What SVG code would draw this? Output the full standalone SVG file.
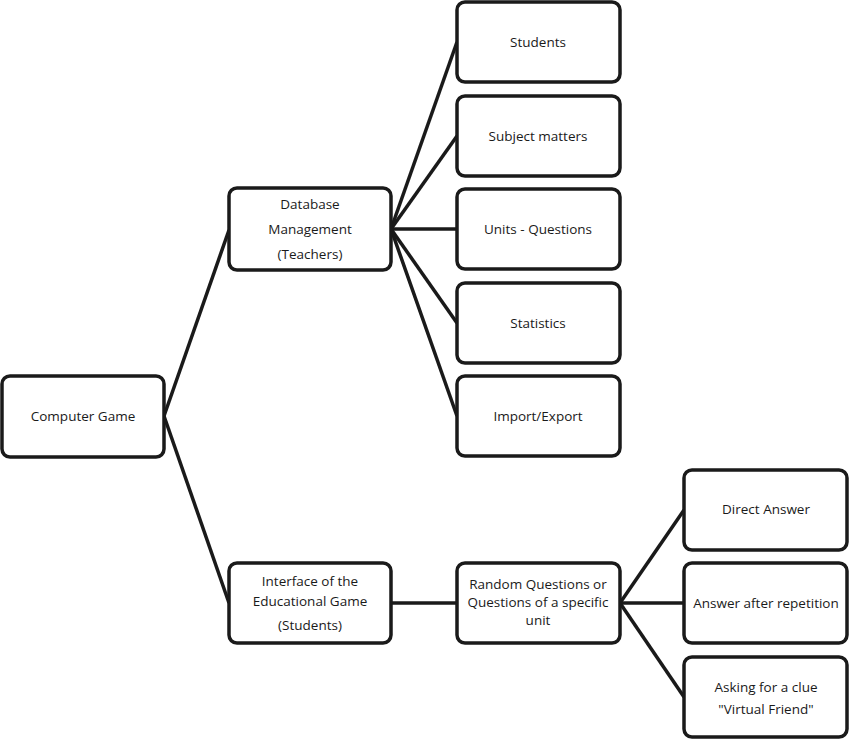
<svg xmlns="http://www.w3.org/2000/svg" width="850" height="740" viewBox="0 0 850 740">
<style>
rect{fill:#fff;stroke:#1a1a1a;stroke-width:3.5}
line{stroke:#1a1a1a;stroke-width:3.5}
text{font-family:"Open Sans","Liberation Sans",sans-serif;font-size:13.5px;fill:#1a1a1a;text-anchor:middle}
</style>
<rect width="850" height="740" style="fill:#fff;stroke:none"/>
<g id="connectors">
<line x1="164" y1="416" x2="229" y2="230"/>
<line x1="164" y1="416" x2="229" y2="603"/>
<line x1="391" y1="229" x2="457" y2="42"/>
<line x1="391" y1="229" x2="457" y2="136"/>
<line x1="391" y1="229" x2="457" y2="229"/>
<line x1="391" y1="229" x2="457" y2="323"/>
<line x1="391" y1="229" x2="457" y2="416"/>
<line x1="391" y1="603" x2="457" y2="603"/>
<line x1="620" y1="603" x2="684" y2="510"/>
<line x1="620" y1="603" x2="684" y2="603"/>
<line x1="620" y1="603" x2="684" y2="697"/>
</g>
<g id="n_game"><rect x="2" y="376" width="162" height="81" rx="8"/><text x="83" y="421">Computer Game</text></g>
<g id="n_db"><rect x="229" y="188" width="162" height="82" rx="8"/><text x="310" y="209">Database</text><text x="310" y="234">Management</text><text x="310" y="259">(Teachers)</text></g>
<g id="n_students"><rect x="457" y="2" width="163" height="80" rx="8"/><text x="538" y="47">Students</text></g>
<g id="n_subject"><rect x="457" y="96" width="163" height="80" rx="8"/><text x="538" y="141">Subject matters</text></g>
<g id="n_units"><rect x="457" y="189" width="163" height="80" rx="8"/><text x="538" y="234">Units - Questions</text></g>
<g id="n_stats"><rect x="457" y="283" width="163" height="80" rx="8"/><text x="538" y="328">Statistics</text></g>
<g id="n_import"><rect x="457" y="376" width="163" height="80" rx="8"/><text x="538" y="421">Import/Export</text></g>
<g id="n_interface"><rect x="229" y="563" width="162" height="80" rx="8"/><text x="310" y="586">Interface of the</text><text x="310" y="606">Educational Game</text><text x="310" y="630">(Students)</text></g>
<g id="n_random"><rect x="457" y="563" width="163" height="80" rx="8"/><text x="538" y="589">Random Questions  or</text><text x="538" y="607">Questions of a specific</text><text x="538" y="625">unit</text></g>
<g id="n_direct"><rect x="684" y="470" width="163" height="80" rx="8"/><text x="766" y="514">Direct Answer</text></g>
<g id="n_repeat"><rect x="684" y="563" width="163" height="80" rx="8"/><text x="766" y="608">Answer after repetition</text></g>
<g id="n_clue"><rect x="684" y="657" width="163" height="80" rx="8"/><text x="766" y="692">Asking for a  clue</text><text x="766" y="714">"Virtual Friend"</text></g>
</svg>
